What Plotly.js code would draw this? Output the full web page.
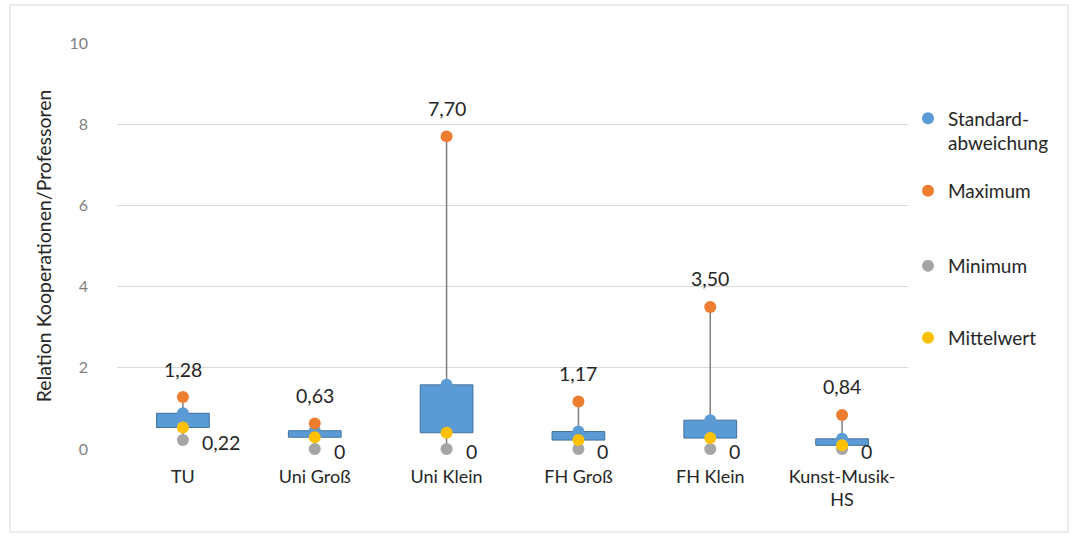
<!DOCTYPE html>
<html><head><meta charset="utf-8">
<script src="https://cdn.plot.ly/plotly-3.0.1.min.js"></script>
<style>html,body{margin:0;padding:0;background:#fff;}#chart{width:1076px;height:540px;}</style>
</head><body><div id="chart"></div>
<script>
const categories = ['TU', 'Uni Groß', 'Uni Klein', 'FH Groß', 'FH Klein', 'Kunst-Musik-<br>HS'];
const stdDev = [0.88, 0.45, 1.58, 0.43, 0.71, 0.25];
const maximum = [1.28, 0.63, 7.70, 1.17, 3.50, 0.84];
const minimum = [0.22, 0, 0, 0, 0, 0];
const mean = [0.53, 0.29, 0.40, 0.22, 0.27, 0.09];
const yTicks = [0, 2, 4, 6, 8, 10];

const fmt = v => v === 0 ? '0' : v.toFixed(2).replace('.', ',');
const font = 'Lato, "Open Sans", sans-serif';

// high-low line segments (outside the up/down bars)
const segX = [], segY = [];
categories.forEach((c, i) => {
  const top = Math.max(stdDev[i], mean[i]);
  const bot = Math.min(stdDev[i], mean[i]);
  segX.push(c, c, null, c, c, null);
  segY.push(maximum[i], top, null, bot, minimum[i], null);
});

const traces = [
  {type: 'scatter', mode: 'lines', x: segX, y: segY, showlegend: false, hoverinfo: 'skip',
   cliponaxis: false, line: {color: '#7F7F7F', width: 1.5}},
  {type: 'bar', x: categories, base: categories.map((c, i) => Math.min(stdDev[i], mean[i])),
   y: categories.map((c, i) => Math.abs(stdDev[i] - mean[i])), width: 0.4, showlegend: false,
   marker: {color: '#5B9BD5', line: {color: '#41719C', width: 1}}},
  {type: 'scatter', mode: 'markers', name: 'Standard-<br>abweichung', x: categories, y: stdDev,
   legend: 'legend', cliponaxis: false, marker: {color: '#5B9BD5', size: 12}},
  {type: 'scatter', mode: 'markers', name: 'Maximum', x: categories, y: maximum,
   legend: 'legend2', cliponaxis: false, marker: {color: '#ED7D31', size: 12}},
  {type: 'scatter', mode: 'markers', name: 'Minimum', x: categories, y: minimum,
   legend: 'legend3', cliponaxis: false, marker: {color: '#A5A5A5', size: 12}},
  {type: 'scatter', mode: 'markers', name: 'Mittelwert', x: categories, y: mean,
   legend: 'legend4', cliponaxis: false, marker: {color: '#FFC000', size: 12}}
];

const annotations = [];
categories.forEach((c, i) => {
  annotations.push({x: c, y: maximum[i], text: fmt(maximum[i]), showarrow: false,
    yshift: 28, font: {family: font, size: 19.5, color: '#262626'}});
  annotations.push({x: c, y: minimum[i], text: fmt(minimum[i]), showarrow: false,
    xanchor: 'left', xshift: 17, yshift: -2, font: {family: font, size: 19.5, color: '#262626'}});
});

const L = 117, R = 908, T = 43, B = 449;
const px = x => (x - L) / (R - L);
const py = y => (B - y) / (B - T);

const legFont = {family: font, size: 19, color: '#262626'};
const legBase = {x: 1.0, xanchor: 'left', yanchor: 'middle', font: legFont, bgcolor: 'rgba(0,0,0,0)'};

const layout = {
  width: 1076, height: 540,
  margin: {l: 117, r: 168, t: 43, b: 91},
  paper_bgcolor: '#fff', plot_bgcolor: '#fff',
  separators: ',.',
  barmode: 'overlay',
  font: {family: font, color: '#595959'},
  xaxis: {type: 'category', showgrid: false, zeroline: false, showline: false, ticks: '',
    ticklabelstandoff: 15, tickfont: {family: font, size: 18, color: '#262626'}},
  yaxis: {range: [0, 10], tickvals: yTicks, ticktext: yTicks.map(String), showgrid: true,
    gridcolor: '#D9D9D9', gridwidth: 1, zeroline: false, showline: false, ticks: '',
    ticklabelstandoff: 28, tickfont: {family: font, size: 16, color: '#7F7F7F'},
    title: {text: 'Relation Kooperationen/Professoren', standoff: 12,
      font: {family: font, size: 19.5, color: '#262626'}}},
  legend: Object.assign({}, legBase, {y: py(131), valign: 'top'}),
  legend2: Object.assign({}, legBase, {y: py(191)}),
  legend3: Object.assign({}, legBase, {y: py(266)}),
  legend4: Object.assign({}, legBase, {y: py(338)}),
  annotations: annotations,
  shapes: [{type: 'rect', xref: 'paper', yref: 'paper', x0: px(10), x1: px(1068), y0: py(532), y1: py(5),
    line: {color: '#D9D9D9', width: 1}, layer: 'below'}],
  hovermode: false
};

Plotly.newPlot('chart', traces, layout, {displayModeBar: false, staticPlot: true});
</script></body></html>
